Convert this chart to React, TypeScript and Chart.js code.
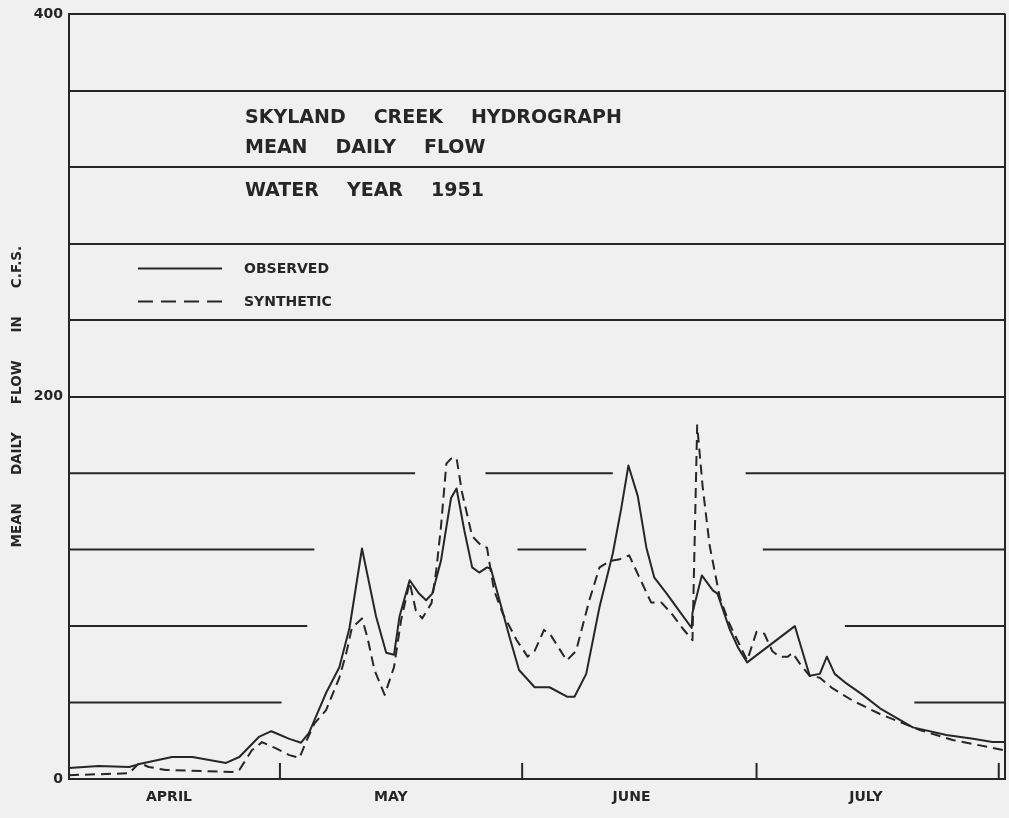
import React, { useEffect, useRef } from "react";
import { Chart, registerables } from "chart.js";

Chart.register(...registerables);

// Day numbers: April 1 = 1, May 1 = 31, June 1 = 62, July 1 = 92, August 1 = 123
const observedDays = [4, 7.8, 11.7, 13, 17.2, 19.8, 24.1, 25.8, 28.3, 29.9, 32.2, 33.7, 34.7, 35.8, 36.9, 38.6, 39.9, 41.5, 43.3, 44.6, 45.6, 46.3, 47.6, 48.8, 49.7, 50.5, 51.6, 52.9, 53.6, 54.6, 55.6, 56.5, 57.5, 58, 59.1, 60.4, 61.6, 63.6, 65.5, 67.8, 68.7, 70.2, 71.9, 73.6, 74.7, 75.6, 76.8, 77.9, 78.9, 80.5, 82.1, 83.7, 83.8, 85, 86.4, 87, 88.5, 89.6, 90.8, 96.9, 98.8, 100.1, 101, 102, 103.5, 105.6, 107.8, 109.9, 112, 116.3, 119.7, 122.2, 123.8];
const observedFlow = [5.7, 6.8, 6.3, 7.8, 11.5, 11.5, 8.4, 11.5, 22, 25, 21, 19, 24, 34.5, 45, 58.5, 79, 120.6, 85, 66, 65, 85, 104, 97, 93.5, 97, 114, 147, 152, 130, 110.7, 108, 110.7, 110, 93.5, 74, 57, 48, 48, 43, 43, 55, 90, 118, 142, 164, 148, 121, 105.5, 97, 88, 79, 87, 106.5, 98.7, 97, 79, 69, 61, 80, 54, 55, 64, 55, 50, 44, 37, 32, 27, 23, 21, 19.3, 19.3];

const syntheticDays = [4, 11.7, 13, 14.2, 16.4, 24.9, 25.8, 27.4, 28.7, 30.5, 32.2, 33.5, 34.4, 35.4, 36.9, 38.6, 39.5, 40.2, 41.5, 42.2, 43.1, 44.4, 45.6, 46.5, 47.6, 48.4, 49.2, 50.4, 51, 51.6, 52.3, 52.9, 53.6, 54.3, 55.6, 56.8, 57.5, 58.4, 59.5, 61.3, 62.7, 63.6, 64.8, 65.7, 67.7, 68.9, 70.6, 71.9, 73.2, 74.5, 75.7, 77, 78.5, 79.8, 81.1, 82.5, 83.8, 84.4, 85.1, 86, 87.3, 88.5, 90.8, 92, 93, 94, 94.9, 96, 96.6, 97.5, 98.8, 100.1, 101.7, 104.3, 107.8, 112.9, 117.1, 123.8];
const syntheticFlow = [2, 3, 8.4, 6.3, 4.7, 3.7, 4.7, 15, 19.3, 16, 12.5, 11, 20, 29, 36, 53, 66, 79, 84, 74, 57, 44, 58.5, 83, 103, 88, 84, 92, 109, 131.6, 165, 167.6, 168, 150, 127, 122, 121, 98.7, 86.7, 72.6, 64, 67, 78, 75, 62, 67, 93.5, 110.7, 114, 115, 117, 105.5, 92.4, 92.4, 86.7, 79, 72.6, 185, 153, 122, 95, 81.5, 62, 77, 76, 67, 64, 64, 66, 60.6, 54, 53, 47.5, 41, 34, 25.6, 20.4, 15];

const monthLabels = ["APRIL", "MAY", "JUNE", "JULY"];
const monthLabelDays = [16.8, 45.2, 76, 106];
const monthStartDays = [31, 62, 92, 123];
const yTickLabels = [0, 200, 400];

// grid lines below 200 are broken where the curves pass
const partialGridFlows = [40, 80, 120, 160];
const partialGridSpans = [
  [[4, 31.2], [112.2, 123.8]],
  [[4, 34.5], [103.3, 123.8]],
  [[4, 35.4], [61.4, 70.2], [92.8, 123.8]],
  [[4, 48.3], [57.3, 73.6], [90.6, 123.8]],
];

const titleLines = [
  ["SKYLAND", "CREEK", "HYDROGRAPH"],
  ["MEAN", "DAILY", "FLOW"],
  ["WATER", "YEAR", "1951"],
];
const yTitleWords = ["MEAN", "DAILY", "FLOW", "IN", "C.F.S."];
const legendLabels = ["OBSERVED", "SYNTHETIC"];

const INK = "#262626";
const PAPER = "#f0f0f0";
const FONT = '"DejaVu Sans", sans-serif';

const paperPlugin = {
  id: "paper",
  beforeDraw(chart: any) {
    const { ctx, width, height } = chart;
    ctx.save();
    ctx.fillStyle = PAPER;
    ctx.fillRect(0, 0, width, height);
    ctx.restore();
  },
  beforeDatasetsDraw(chart: any) {
    const { ctx, chartArea, scales } = chart;
    const x = scales.x;
    const y = scales.y;
    ctx.save();
    ctx.strokeStyle = INK;
    ctx.lineWidth = 2;
    partialGridFlows.forEach((f, i) => {
      const py = y.getPixelForValue(f);
      partialGridSpans[i].forEach(([a, b]) => {
        ctx.beginPath();
        ctx.moveTo(x.getPixelForValue(a), py);
        ctx.lineTo(x.getPixelForValue(b), py);
        ctx.stroke();
      });
    });
    ctx.beginPath();
    ctx.moveTo(chartArea.right, chartArea.top - 1);
    ctx.lineTo(chartArea.right, chartArea.bottom + 1);
    ctx.stroke();
    monthStartDays.forEach((d) => {
      const px = x.getPixelForValue(d);
      ctx.beginPath();
      ctx.moveTo(px, chartArea.bottom);
      ctx.lineTo(px, chartArea.bottom - 16);
      ctx.stroke();
    });
    ctx.restore();
  },
  afterDraw(chart: any) {
    const { ctx, chartArea } = chart;
    ctx.save();
    ctx.fillStyle = INK;
    ctx.strokeStyle = INK;

    // title block
    ctx.font = `bold 19px ${FONT}`;
    ctx.textBaseline = "alphabetic";
    ctx.textAlign = "left";
    const titleLeft = chartArea.left + 176;
    const baselines = [chartArea.top + 109, chartArea.top + 139, chartArea.top + 182];
    titleLines.forEach((words, li) => {
      let cx = titleLeft;
      words.forEach((w) => {
        ctx.fillText(w, cx, baselines[li]);
        cx += ctx.measureText(w).width + 28;
      });
    });

    // legend
    const legLeft = chartArea.left + 69;
    const legRight = chartArea.left + 153;
    const legRows = [chartArea.top + 254, chartArea.top + 287];
    ctx.lineWidth = 2;
    ctx.beginPath();
    ctx.moveTo(legLeft, legRows[0]);
    ctx.lineTo(legRight, legRows[0]);
    ctx.stroke();
    ctx.setLineDash([15, 8]);
    ctx.beginPath();
    ctx.moveTo(legLeft, legRows[1]);
    ctx.lineTo(legRight, legRows[1]);
    ctx.stroke();
    ctx.setLineDash([]);
    ctx.font = `bold 14px ${FONT}`;
    ctx.textBaseline = "middle";
    legendLabels.forEach((t, i) => {
      ctx.fillText(t, chartArea.left + 175, legRows[i] + 1);
    });

    // rotated y-axis title
    ctx.font = `bold 13.5px ${FONT}`;
    const gap = 28;
    const widths = yTitleWords.map((w) => ctx.measureText(w).width);
    const total = widths.reduce((a, b) => a + b, 0) + gap * (yTitleWords.length - 1);
    ctx.translate(17, (chartArea.top + chartArea.bottom) / 2);
    ctx.rotate(-Math.PI / 2);
    let cx = -total / 2;
    yTitleWords.forEach((w, i) => {
      ctx.fillText(w, cx, 0);
      cx += widths[i] + gap;
    });
    ctx.restore();
  },
};

export default function App() {
  const canvasRef = useRef<HTMLCanvasElement | null>(null);

  useEffect(() => {
    document.body.style.margin = "0";
    document.body.style.background = PAPER;
    const canvas = canvasRef.current;
    if (!canvas) return;
    const chart = new Chart(canvas, {
      type: "line",
      data: {
        datasets: [
          {
            label: "OBSERVED",
            data: observedDays.map((d, i) => ({ x: d, y: observedFlow[i] })),
            borderColor: INK,
            borderWidth: 2,
            pointRadius: 0,
            tension: 0,
            fill: false,
            borderJoinStyle: "round",
          },
          {
            label: "SYNTHETIC",
            data: syntheticDays.map((d, i) => ({ x: d, y: syntheticFlow[i] })),
            borderColor: INK,
            borderWidth: 2,
            borderDash: [10, 6],
            pointRadius: 0,
            tension: 0,
            fill: false,
            borderJoinStyle: "round",
          },
        ],
      },
      options: {
        animation: false,
        responsive: false,
        layout: { padding: { top: 13, right: 4, left: 0, bottom: 0 } },
        plugins: {
          legend: { display: false },
          title: { display: false },
          tooltip: { enabled: false },
        },
        scales: {
          x: {
            type: "linear",
            min: 4,
            max: 123.8,
            afterBuildTicks: (scale: any) => {
              scale.ticks = monthLabelDays.map((v) => ({ value: v }));
            },
            afterFit: (scale: any) => {
              scale.height = 39;
            },
            ticks: {
              autoSkip: false,
              maxRotation: 0,
              padding: 10,
              color: INK,
              font: { family: FONT, size: 14, weight: "bold" },
              callback: (_v: any, i: number) => monthLabels[i],
            },
            grid: { display: true, color: "transparent", drawTicks: false },
            border: { display: true, color: INK, width: 2 },
          },
          y: {
            type: "linear",
            min: 0,
            max: 400,
            afterFit: (scale: any) => {
              scale.width = 69;
            },
            ticks: {
              stepSize: 40,
              padding: 6,
              color: INK,
              font: { family: FONT, size: 14, weight: "bold" },
              callback: (v: any) => (yTickLabels.includes(Number(v)) ? String(v) : ""),
            },
            grid: {
              drawTicks: false,
              lineWidth: 2,
              color: (c: any) => (c.tick && c.tick.value >= 200 ? INK : "transparent"),
            },
            border: { display: true, color: INK, width: 2 },
          },
        },
      },
      plugins: [paperPlugin],
    } as any);
    return () => chart.destroy();
  }, []);

  return (
    <div style={{ width: 1009, height: 818 }}>
      <canvas ref={canvasRef} width={1009} height={818} style={{ display: "block", width: 1009, height: 818 }} />
    </div>
  );
}
